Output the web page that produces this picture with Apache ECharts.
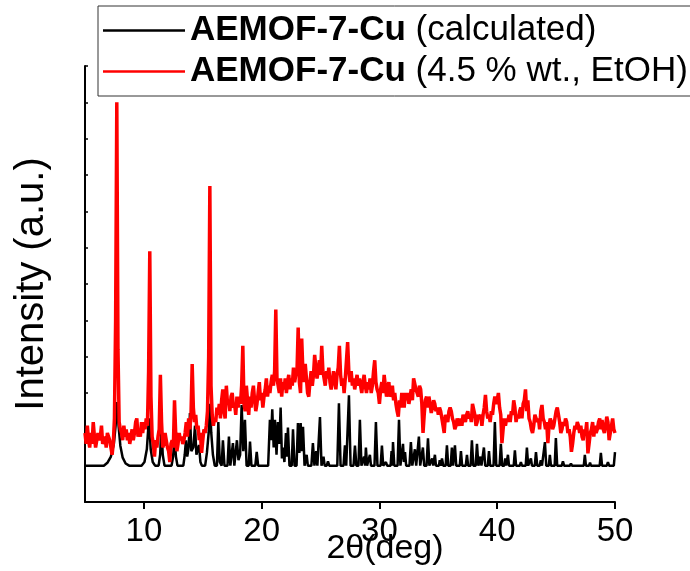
<!DOCTYPE html>
<html>
<head>
<meta charset="utf-8">
<script src="https://cdn.jsdelivr.net/npm/echarts@6/dist/echarts.min.js"></script>
<style>
html, body { margin: 0; padding: 0; background: #fff; }
#main { width: 690px; height: 571px; }
</style>
</head>
<body>
<div id="main"></div>
<script>
// legend names, axis ticks
const seriesNames = ['AEMOF-7-Cu (calculated)', 'AEMOF-7-Cu (4.5 % wt., EtOH)']
const xMajorTicks = [10, 20, 30, 40, 50]
const xMinorTicks = [15, 25, 35, 45]

// calculated pattern, [2theta, intensity] vertices
const calcPattern = [
  [5.0, 1], [6.6, 1], [6.9, 1.08], [7.2, 1.25], [7.45, 1.6], [7.6, 2.1], [7.72, 2.75], [7.85, 2.1], [8.0, 1.55], [8.2, 1.22], [8.45, 1.06], [8.75, 1],
  [9.8, 1], [10.05, 1.1], [10.25, 1.45], [10.43, 2.3], [10.58, 1.45], [10.75, 1.1], [10.95, 1],
  [11.25, 1], [11.38, 1.3], [11.49, 2.1], [11.6, 1.3], [11.75, 1],
  [12.35, 1], [12.48, 1.25], [12.6, 1.8], [12.72, 1.25], [12.85, 1],
  [13.35, 1], [13.47, 1.3], [13.57, 1.7], [13.68, 1.25], [13.8, 1.5], [13.91, 2.45], [14.03, 1.4], [14.2, 1.5], [14.34, 2.1], [14.46, 1.3], [14.58, 1.3], [14.68, 1.57], [14.8, 1.1], [14.92, 1],
  [15.2, 1], [15.35, 1.35], [15.5, 1.9], [15.61, 2.7], [15.72, 1.9], [15.86, 1.3], [16.02, 1],
  [16.2, 1], [16.32, 2.2], [16.44, 1.1], [16.6, 1], [16.71, 1.7], [16.84, 1], [17.1, 1], [17.22, 1.8], [17.34, 1], [17.46, 1], [17.56, 1.62], [17.68, 1], [17.8, 1], [17.9, 1.7], [18.03, 1.15], [18.17, 1.3], [18.3, 2.67], [18.44, 1.4], [18.58, 2.26], [18.72, 1], [18.9, 1], [19.01, 1.66], [19.13, 1], [19.46, 1], [19.58, 1.38], [19.7, 1],
  [20.55, 1], [20.7, 2.26], [20.79, 1.7], [20.9, 2.55], [21.02, 1.5], [21.13, 2.26], [21.26, 1.3], [21.38, 2.2], [21.5, 1.6], [21.61, 2.6], [21.72, 1.2], [21.81, 1.5], [21.93, 1.1], [22.06, 1.9], [22.15, 1.25], [22.23, 2.05], [22.36, 1], [22.55, 1], [22.66, 2.0], [22.79, 1], [22.96, 1], [23.08, 2.17], [23.2, 1.35], [23.31, 2.17], [23.41, 1.4], [23.51, 2.07], [23.64, 1], [23.72, 1], [23.82, 1.3], [23.92, 1], [24.22, 1], [24.35, 1.62], [24.48, 1], [24.55, 1], [24.63, 1.4], [24.73, 1], [24.83, 1], [24.95, 2.34], [25.08, 1], [25.15, 1], [25.25, 1.25], [25.35, 1], [25.52, 1], [25.63, 1.12], [25.74, 1],
  [26.42, 1], [26.56, 2.72], [26.7, 1], [26.95, 1], [27.07, 1.56], [27.18, 1], [27.29, 1], [27.41, 2.94], [27.55, 1], [27.8, 1], [27.92, 1.55], [28.04, 1], [28.22, 1], [28.34, 2.26], [28.47, 1], [28.6, 1], [28.7, 1.25], [28.78, 1], [28.85, 1.5], [28.95, 1], [29.1, 1], [29.19, 1.3], [29.28, 1], [29.58, 1], [29.7, 2.2], [29.83, 1], [30.1, 1], [30.21, 1.55], [30.32, 1], [30.45, 1], [30.55, 1.1], [30.65, 1],
  [30.95, 1], [31.03, 1.4], [31.1, 1], [31.15, 1.65], [31.26, 1], [31.54, 1], [31.66, 2.26], [31.78, 1], [31.9, 1], [32.0, 1.6], [32.08, 1.1], [32.17, 1.37], [32.27, 1], [32.55, 1], [32.67, 1.65], [32.79, 1], [32.9, 1], [33.01, 1.45], [33.12, 1], [33.24, 1], [33.35, 1.8], [33.46, 1], [33.58, 1], [33.69, 1.5], [33.8, 1], [34.0, 1], [34.12, 1.75], [34.24, 1], [34.4, 1], [34.48, 1.2], [34.56, 1], [34.62, 1], [34.71, 1.3], [34.8, 1], [35.05, 1], [35.12, 1.15], [35.2, 1], [35.31, 1.2], [35.42, 1], [35.62, 1], [35.73, 1.56], [35.84, 1], [36.05, 1], [36.15, 1.5], [36.25, 1], [36.32, 1], [36.41, 1.56], [36.52, 1], [36.82, 1], [36.92, 1.4], [37.02, 1], [37.33, 1], [37.43, 1.3], [37.53, 1], [37.74, 1], [37.85, 1.7], [37.97, 1], [38.17, 1], [38.28, 1.6], [38.4, 1], [38.5, 1], [38.58, 1.25], [38.66, 1], [38.77, 1], [38.87, 1.5], [38.98, 1], [39.2, 1], [39.3, 1.4], [39.4, 1], [39.69, 1], [39.8, 2.2], [39.92, 1],
  [40.2, 1], [40.31, 1.6], [40.42, 1], [40.6, 1], [40.68, 1.2], [40.76, 1], [40.82, 1], [40.91, 1.3], [41.0, 1], [41.4, 1], [41.5, 1.42], [41.6, 1], [41.92, 1], [42.01, 1.1], [42.1, 1], [42.42, 1], [42.52, 1.5], [42.63, 1], [42.77, 1], [42.86, 1.2], [42.95, 1], [43.19, 1], [43.29, 1.37], [43.4, 1], [43.6, 1], [43.7, 1.15], [43.8, 1], [43.95, 1], [44.05, 1.65], [44.16, 1], [44.38, 1], [44.47, 1.3], [44.56, 1], [44.88, 1], [44.98, 1.76], [45.09, 1], [45.48, 1], [45.58, 1.12], [45.68, 1], [46.17, 1], [46.26, 1.06], [46.35, 1], [47.35, 1], [47.44, 1.3], [47.53, 1], [47.8, 1], [47.88, 1.08], [47.96, 1], [48.7, 1], [48.8, 1.35], [48.9, 1], [49.3, 1], [49.4, 1.1], [49.5, 1], [49.9, 1], [50.0, 1.37]
]

// measured pattern, one value per 0.1 deg from 5.0 to 50.0
const exptStart = 5
const exptStep = 0.1
const exptPattern = [
  1.9, 1.6, 2.1, 1.7, 1.5, 1.9, 1.6, 2.2, 1.8, 1.5,
  1.5, 1.9, 1.7, 1.8, 2.1, 1.6, 1.6, 1.8, 1.5, 1.9,
  1.9, 1.7, 1.5, 1.3, 1.6, 2.3, 5.0, 11.0, 4.2, 2.2,
  2.0, 1.9, 1.7, 2.1, 1.8, 2.0, 1.7, 1.9, 1.6, 1.8,
  2.0, 1.7, 1.9, 2.2, 2.3, 1.8, 2.0, 1.8, 2.2, 1.9,
  2.2, 2.0, 2.3, 2.1, 3.6, 6.9, 2.9, 1.8, 1.6, 1.25,
  1.7, 1.5, 1.8, 2.0, 3.5, 2.2, 1.5, 1.6, 1.9, 1.7,
  1.5, 1.4, 1.1, 1.6, 1.7, 1.5, 2.8, 1.9, 1.4, 1.6,
  1.9, 1.7, 1.8, 1.6, 1.7, 1.9, 2.2, 1.8, 2.3, 2.0,
  2.4, 3.8, 2.6, 2.2, 2.4, 2.0, 2.1, 1.7, 1.9, 1.35,
  1.7, 2.0, 1.9, 2.1, 2.5, 4.0, 8.7, 3.2, 2.4, 2.1,
  2.3, 2.2, 2.6, 2.4, 2.7, 2.3, 2.8, 3.1, 2.5, 2.3,
  3.2, 2.7, 2.8, 2.5, 2.9, 3.0, 2.6, 2.7, 2.4, 2.9,
  2.6, 2.9, 2.7, 3.2, 4.3, 2.7, 2.5, 3.2, 2.8, 2.4,
  2.9, 2.6, 3.0, 3.2, 2.8, 2.5, 2.7, 3.0, 3.3, 2.8,
  3.0, 2.6, 2.9, 3.1, 3.4, 2.9, 3.2, 3.0, 3.3, 3.5,
  3.2, 3.6, 5.3, 3.4, 3.2, 3.0, 3.4, 2.9, 3.3, 3.1,
  3.4, 3.0, 3.3, 3.5, 3.1, 3.4, 3.2, 3.7, 3.3, 3.5,
  3.6, 4.8, 3.3, 3.0, 4.5, 3.6, 3.3, 3.8, 3.4, 3.0,
  2.9, 3.3, 3.6, 3.2, 3.5, 4.05, 3.7, 3.4, 3.6, 3.9,
  3.5, 4.3, 3.6, 3.4, 3.2, 3.6, 3.4, 3.7, 3.3, 3.1,
  3.3, 3.6, 3.4, 3.1, 3.5, 3.7, 4.3, 3.5, 3.2, 3.4,
  3.0, 3.4, 3.9, 4.4, 3.6, 3.3, 3.6, 3.2, 3.4, 3.1,
  3.3, 3.5, 3.2, 3.4, 3.4, 3.0, 3.3, 3.5, 3.2, 3.0,
  3.3, 3.1, 3.4, 3.0, 3.2, 3.6, 3.9, 3.3, 3.1, 3.0,
  2.7, 3.1, 3.3, 3.0, 3.5, 3.2, 2.9, 3.1, 3.3, 2.9,
  3.0, 3.2, 2.8, 3.0, 2.7, 2.5, 2.35, 2.8, 2.6, 3.0,
  2.8, 2.6, 3.0, 2.8, 3.0, 2.7, 2.9, 3.1, 2.8, 3.4,
  3.4, 3.1, 3.0, 2.9, 3.2, 3.1, 2.7, 1.9, 2.4, 2.8,
  2.9, 2.6, 2.9, 2.7, 2.45, 2.6, 2.8, 2.7, 2.5, 2.6,
  2.4, 2.6, 2.5, 2.3, 2.1, 1.9, 2.4, 2.4, 2.2, 2.5,
  2.6, 2.5, 2.3, 2.2, 2.0, 2.1, 2.3, 2.2, 2.1, 2.3,
  2.1, 2.4, 2.3, 2.2, 2.4, 2.5, 2.3, 2.4, 2.2, 2.7,
  2.7, 2.4, 2.1, 2.2, 2.4, 2.3, 2.4, 2.1, 2.4, 2.6,
  2.95, 2.5, 2.3, 2.4, 2.2, 2.5, 2.4, 2.7, 2.9, 2.7,
  2.8, 3.0, 2.6, 2.4, 1.62, 2.0, 2.3, 2.1, 2.3, 2.2,
  2.4, 2.2, 2.5, 2.4, 2.8, 2.6, 2.2, 2.4, 2.3, 2.5,
  2.6, 2.3, 2.7, 2.8, 3.1, 2.5, 2.8, 2.3, 2.2, 2.0,
  1.9, 2.1, 2.4, 2.45, 2.2, 2.3, 2.0, 2.5, 2.67, 2.3,
  2.2, 2.0, 2.2, 1.62, 2.1, 2.3, 2.2, 2.0, 2.1, 2.3,
  2.5, 2.6, 2.4, 2.2, 1.9, 2.0, 2.2, 2.1, 2.3, 2.2,
  1.9, 2.0, 1.8, 1.38, 1.6, 1.9, 2.1, 2.0, 2.2, 2.1,
  1.9, 2.1, 1.8, 1.7, 2.0, 1.9, 2.2, 1.34, 1.6, 1.9,
  2.0, 2.2, 1.8, 2.1, 1.9, 2.0, 2.2, 2.3, 2.0, 2.26,
  2.0, 1.9, 2.1, 2.35, 2.2, 1.7, 1.9, 2.1, 2.3, 2.0,
  1.9
]

const FONT = "'Liberation Sans', Arial, sans-serif"

const exptData = exptPattern.map((v, i) => [+(exptStart + i * exptStep).toFixed(1), v])

function legendLabel (name) {
  const i = name.indexOf(' ')
  return '{b|' + name.slice(0, i) + '} {r|' + name.slice(i + 1) + '}'
}

const chart = echarts.init(document.getElementById('main'))

const baseX = {
  type: 'value',
  min: 5,
  max: 50,
  interval: 5,
  gridIndex: 0,
  splitLine: { show: false }
}

chart.setOption({
  animation: false,
  backgroundColor: '#fff',
  grid: { left: 85, right: 75, top: 66, bottom: 69, containLabel: false, outerBoundsMode: 'none' },
  legend: {
    orient: 'vertical',
    left: 98,
    top: 6,
    padding: [4, 3, 4, 5],
    itemGap: 0,
    itemWidth: 82,
    itemHeight: 2.5,
    icon: 'rect',
    backgroundColor: '#fff',
    borderColor: '#333',
    borderWidth: 1,
    borderRadius: 0,
    data: seriesNames,
    formatter: legendLabel,
    textStyle: {
      fontFamily: FONT,
      fontSize: 35,
      color: '#000',
      lineHeight: 41,
      rich: {
        b: { fontFamily: FONT, fontSize: 35, fontWeight: 'bold', color: '#000', lineHeight: 41 },
        r: { fontFamily: FONT, fontSize: 35, color: '#000', lineHeight: 41 }
      }
    }
  },
  xAxis: [
    Object.assign({}, baseX, {
      name: '2θ(deg)',
      nameLocation: 'middle',
      nameGap: 30,
      nameMoveOverlap: false,
      nameTextStyle: { fontFamily: FONT, fontSize: 34, color: '#000', padding: [0, 0, 0, 70] },
      axisLine: { show: true, onZero: false, lineStyle: { color: '#000', width: 2 } },
      axisTick: { show: true, inside: false, length: 7, customValues: xMajorTicks, lineStyle: { color: '#000', width: 2 } },
      axisLabel: { show: true, margin: 13, customValues: xMajorTicks, fontFamily: FONT, fontSize: 33, color: '#000' }
    }),
    Object.assign({}, baseX, {
      axisLine: { show: false, onZero: false },
      axisTick: { show: true, inside: false, length: 4, customValues: xMinorTicks, lineStyle: { color: '#000', width: 2 } },
      axisLabel: { show: false }
    })
  ],
  yAxis: {
    type: 'value',
    min: 0,
    max: 12,
    interval: 1,
    name: 'Intensity (a.u.)',
    nameLocation: 'middle',
    nameGap: 33,
    nameMoveOverlap: false,
    nameTextStyle: { fontFamily: FONT, fontSize: 40, color: '#000' },
    axisLine: { show: true, onZero: false, lineStyle: { color: '#000', width: 2 } },
    axisTick: { show: true, inside: true, length: 3, lineStyle: { color: '#000', width: 1.5 } },
    axisLabel: { show: false },
    splitLine: { show: false }
  },
  series: [
    {
      name: seriesNames[0],
      type: 'line',
      data: calcPattern,
      showSymbol: false,
      symbol: 'none',
      lineStyle: { color: '#000', width: 2.5 },
      itemStyle: { color: '#000' },
      z: 2
    },
    {
      name: seriesNames[1],
      type: 'line',
      data: exptData,
      showSymbol: false,
      symbol: 'none',
      lineStyle: { color: '#ff0000', width: 3.5 },
      itemStyle: { color: '#ff0000' },
      z: 3
    }
  ]
})
</script>
</body>
</html>
